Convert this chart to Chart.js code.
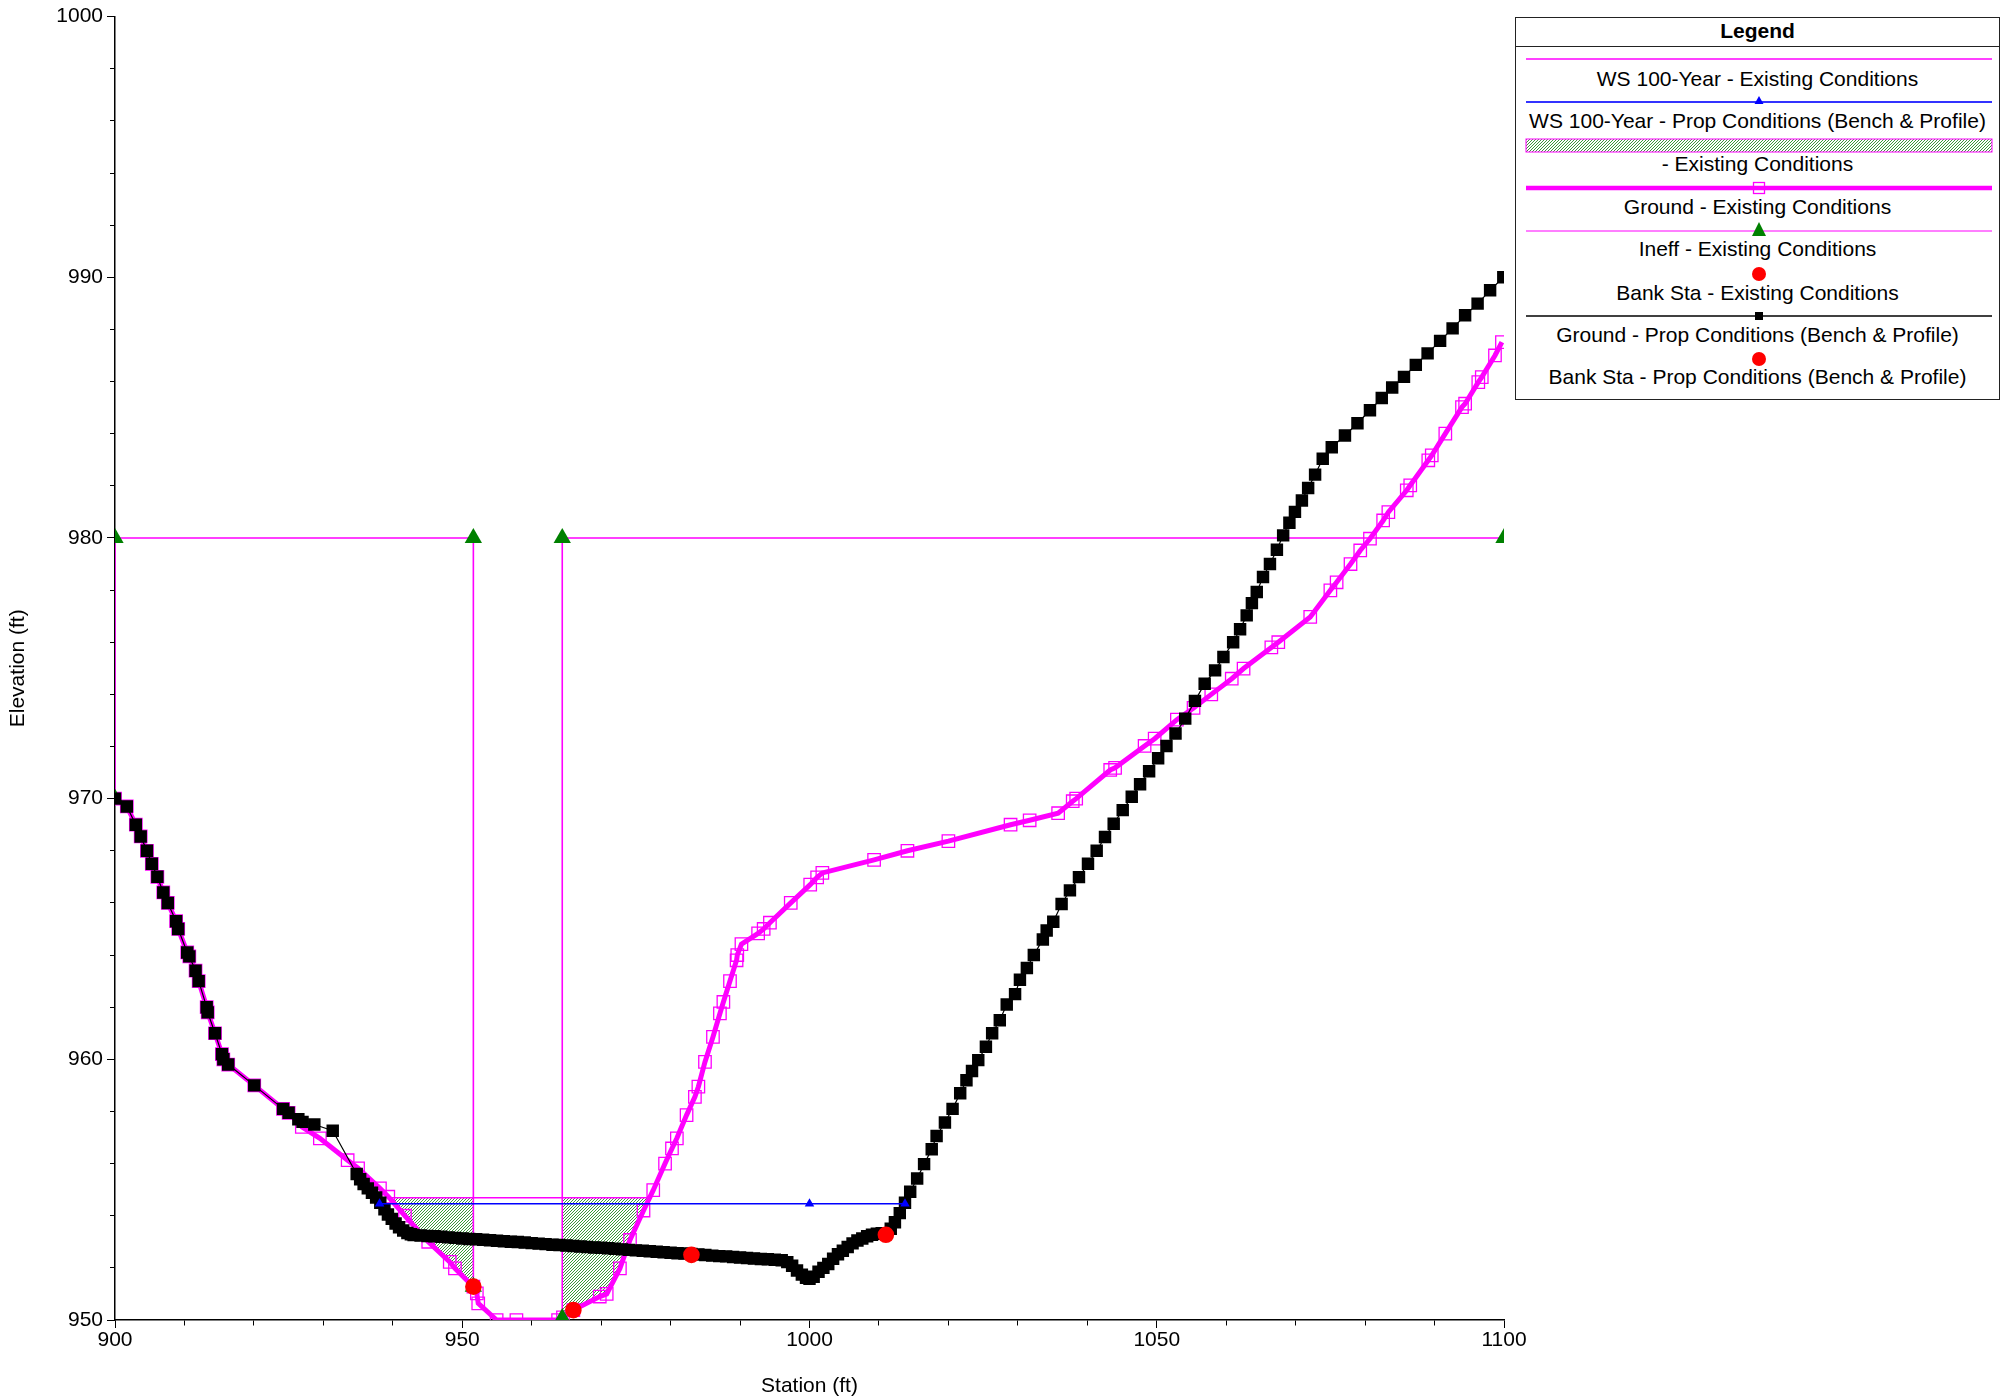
<!DOCTYPE html>
<html>
<head>
<meta charset="utf-8">
<script src="https://cdn.jsdelivr.net/npm/chart.js@4.4.1/dist/chart.umd.min.js"></script>
<style>
html,body{margin:0;padding:0;background:#fff;}
#wrap{position:relative;width:2013px;height:1400px;overflow:hidden;}
#c{position:absolute;left:0;top:0;}
#legend{position:absolute;left:1515px;top:17px;width:485px;height:383px;border:1.5px solid #222;box-sizing:border-box;background:#fff;font-family:"Liberation Sans",Arial,sans-serif;color:#000;}
#legend .ttl{position:absolute;left:0;top:0;width:100%;height:28px;border-bottom:1.5px solid #222;text-align:center;font-weight:bold;font-size:21px;line-height:26px;}
#legend .t{position:absolute;left:0;width:100%;text-align:center;font-size:21px;line-height:24px;white-space:nowrap;}
#legend svg{position:absolute;left:0;top:0;}
</style>
</head>
<body>
<div id="wrap">
<canvas id="c" width="2013" height="1400"></canvas>
<div id="legend">
  <div class="ttl">Legend</div>
  <svg width="485" height="383">
    <defs>
      <pattern id="hatch" width="3" height="3" patternUnits="userSpaceOnUse">
        <rect width="3" height="3" fill="#fff"/>
        <path d="M-1,1 L1,-1 M0,3 L3,0 M2,4 L4,2" stroke="#3a973a" stroke-width="1"/>
      </pattern>
    </defs>
    <line x1="10" y1="41" x2="476" y2="41" stroke="#ff00ff" stroke-width="1.5"/>
    <line x1="10" y1="84" x2="476" y2="84" stroke="#3333ff" stroke-width="2"/>
    <polygon points="243,78 238.5,86 247.5,86" fill="#0000ff"/>
    <rect x="10" y="121" width="466" height="13" fill="url(#hatch)" stroke="#ff00ff" stroke-width="1"/>
    <line x1="10" y1="170" x2="476" y2="170" stroke="#ff00ff" stroke-width="4.5"/>
    <rect x="237.5" y="164.5" width="11" height="11" fill="none" stroke="#ff00ff" stroke-width="1.3"/>
    <line x1="10" y1="213" x2="476" y2="213" stroke="#ff55ff" stroke-width="1.5"/>
    <polygon points="243,204 236,218 250,218" fill="#008000"/>
    <circle cx="243" cy="256" r="7" fill="#ff0000"/>
    <line x1="10" y1="298" x2="476" y2="298" stroke="#000" stroke-width="1.5"/>
    <rect x="239" y="294" width="8" height="8" fill="#000"/>
    <circle cx="243" cy="341" r="7" fill="#ff0000"/>
  </svg>
  <div class="t" style="top:49px">WS 100-Year - Existing Conditions</div>
  <div class="t" style="top:91px">WS 100-Year - Prop Conditions (Bench &amp; Profile)</div>
  <div class="t" style="top:134px">- Existing Conditions</div>
  <div class="t" style="top:177px">Ground - Existing Conditions</div>
  <div class="t" style="top:219px">Ineff - Existing Conditions</div>
  <div class="t" style="top:263px">Bank Sta - Existing Conditions</div>
  <div class="t" style="top:305px">Ground - Prop Conditions (Bench &amp; Profile)</div>
  <div class="t" style="top:347px">Bank Sta - Prop Conditions (Bench &amp; Profile)</div>
</div>
</div>
<script>
// ---------------- DATA ----------------
const groundPropStation = [
  900.0, 901.7, 903.0, 903.7, 904.6, 905.3, 906.1, 906.95, 907.6, 908.8, 909.1, 910.4, 910.7, 911.6, 912.05,
  913.2, 913.35, 914.4, 915.4, 915.6, 916.3, 920.05, 924.2, 925.0, 926.4, 927.0, 928.7, 931.35,
  934.8, 935.3, 935.8, 936.4, 937.0, 937.6, 938.2, 938.8, 939.3, 939.85, 940.4, 940.9, 941.5, 942.1, 942.6,
  943, 944, 945, 946, 947, 948, 949, 950, 951, 952, 953, 954, 955, 956, 957, 958, 959, 960, 961, 962, 963,
  964, 965, 966, 967, 968, 969, 970, 971, 972, 973, 974, 975, 976, 977, 978, 979, 980, 981, 982, 983, 984,
  985, 986, 987, 988, 989, 990, 991, 992, 993, 994, 995, 996,
  996.8, 997.5, 998.2, 998.9, 999.5, 1000.0, 1000.6, 1001.3, 1002.0, 1002.7, 1003.4, 1004.1, 1004.8, 1005.5,
  1006.2, 1006.9, 1007.6, 1008.3, 1009.0, 1009.7, 1010.4, 1011.0,
  1011.7, 1012.3, 1013.0, 1013.75, 1014.5, 1015.5, 1016.5, 1017.6, 1018.3, 1019.5, 1020.6, 1021.7, 1022.6,
  1023.4, 1024.3, 1025.4, 1026.3, 1027.4, 1028.4, 1029.6, 1030.3, 1031.3, 1032.3, 1033.6, 1034.15, 1035.1,
  1036.3, 1037.5, 1038.8, 1040.1, 1041.35, 1042.55, 1043.8, 1045.1, 1046.4, 1047.6, 1048.9, 1050.2, 1051.4,
  1052.7, 1054.1, 1055.5, 1056.9, 1058.4, 1059.6, 1061.0, 1062.0, 1062.95, 1063.7, 1064.4, 1065.3, 1066.3,
  1067.3, 1068.2, 1069.1, 1069.9, 1070.9, 1071.8, 1072.8, 1073.9, 1075.2, 1077.1, 1078.9, 1080.7, 1082.4,
  1083.9, 1085.6, 1087.3, 1089.0, 1090.8, 1092.6, 1094.4, 1096.2, 1098.0, 1099.9
];
const groundPropElev = [
  970.0, 969.7, 969.0, 968.55, 968.0, 967.5, 967.0, 966.4, 966.0, 965.3, 965.0, 964.1, 963.95, 963.4, 963.0,
  962.0, 961.8, 961.0, 960.2, 960.0, 959.8, 959.0, 958.1, 957.95, 957.7, 957.6, 957.5, 957.26,
  955.6, 955.4, 955.22, 955.05, 954.88, 954.7, 954.5, 954.25, 954.05, 953.88, 953.7, 953.56, 953.43, 953.34, 953.29,
  953.26, 953.24, 953.22, 953.21, 953.19, 953.17, 953.15, 953.13, 953.11, 953.10, 953.08, 953.06, 953.04,
  953.02, 953.00, 952.99, 952.97, 952.95, 952.93, 952.91, 952.89, 952.88, 952.86, 952.84, 952.82, 952.80,
  952.78, 952.77, 952.75, 952.73, 952.71, 952.69, 952.67, 952.66, 952.64, 952.62, 952.60, 952.58, 952.56,
  952.55, 952.53, 952.51, 952.49, 952.47, 952.45, 952.44, 952.42, 952.40, 952.38, 952.36, 952.34, 952.33,
  952.31, 952.29,
  952.22, 952.08, 951.9, 951.74, 951.62, 951.58, 951.66, 951.85, 952.0, 952.15, 952.35, 952.52, 952.66, 952.8,
  952.94, 953.05, 953.13, 953.21, 953.27, 953.31, 953.33, 953.33,
  953.5, 953.75, 954.1, 954.5, 954.92, 955.43, 955.98, 956.55, 957.06, 957.58, 958.1, 958.7, 959.2,
  959.55, 959.97, 960.48, 961.0, 961.5, 962.1, 962.5, 963.05, 963.5, 964.0, 964.6, 964.94, 965.28,
  965.96, 966.48, 966.99, 967.5, 968.0, 968.53, 969.04, 969.56, 970.07, 970.55, 971.05, 971.55, 972.02,
  972.5, 973.07, 973.75, 974.41, 974.92, 975.43, 976.0, 976.5, 977.03, 977.5, 977.93, 978.5, 979.0,
  979.55, 980.1, 980.58, 981.0, 981.44, 981.92, 982.43, 983.04, 983.48, 983.93, 984.4, 984.9, 985.37,
  985.77, 986.18, 986.64, 987.08, 987.56, 988.04, 988.54, 988.99, 989.5, 990.0
];

const groundExistStation = [
  900.0, 901.7, 903.0, 903.7, 904.6, 905.3, 906.1, 906.95, 907.6, 908.8, 909.1, 910.4, 910.7, 911.6, 912.05,
  913.2, 913.35, 914.4, 915.4, 915.6, 916.3, 920.05, 924.2, 925.0, 926.9, 929.5, 933.5, 935.0, 938.15, 939.35,
  941.75, 945.1, 948.2, 948.95, 951.6, 952.1, 952.3, 954.95, 957.8, 963.8, 964.5, 966.0, 969.8, 970.8, 972.7,
  974.15, 976.1, 977.5, 979.2, 980.2, 980.9, 982.3, 983.5, 984.0, 984.95, 986.1, 987.1, 987.6, 988.55, 989.5,
  989.6, 990.2, 992.6, 993.4, 994.3, 997.3, 1000.1, 1001.1, 1001.85, 1009.3, 1014.1, 1020.0, 1028.95, 1031.7,
  1035.8, 1037.9, 1038.4, 1043.3, 1044.0, 1048.25, 1049.7, 1052.9, 1055.3, 1057.85, 1060.8, 1062.5, 1066.5,
  1067.5, 1072.1, 1075.0, 1075.9, 1077.9, 1079.3, 1080.7, 1082.6, 1083.35, 1086.0, 1086.5, 1089.1, 1089.6,
  1091.55, 1093.95, 1094.4, 1096.3, 1096.8, 1098.7, 1099.7
];
const groundExistElev = [
  970.0, 969.7, 969.0, 968.55, 968.0, 967.5, 967.0, 966.4, 966.0, 965.3, 965.0, 964.1, 963.95, 963.4, 963.0,
  962.0, 961.8, 961.0, 960.2, 960.0, 959.8, 959.0, 958.1, 957.95, 957.41, 956.97, 956.13, 955.82, 955.05, 954.73,
  954.0, 953.0, 952.23, 951.98, 951.28, 951.02, 950.64, 950.0, 950.0, 950.0, 950.1, 950.38, 950.9, 951.0, 951.98,
  953.07, 954.2, 954.98, 956.0, 956.58, 956.97, 957.86, 958.56, 958.95, 959.9, 960.86, 961.76, 962.2, 963.0, 963.8,
  964.0, 964.42, 964.83, 965.0, 965.24, 966.0, 966.7, 966.98, 967.15, 967.65, 968.0, 968.37, 969.0, 969.17,
  969.44, 969.9, 970.0, 971.1, 971.18, 972.02, 972.3, 973.03, 973.48, 974.0, 974.6, 974.99, 975.8,
  976.0, 976.97, 977.99, 978.3, 979.0, 979.52, 979.97, 980.67, 980.99, 981.83, 982.02, 982.98, 983.17,
  984.0, 985.02, 985.15, 985.98, 986.17, 987.0, 987.51
];

const wsExistStation = [939.5, 976.95];
const wsExistElev = [954.69, 954.69];
const wsPropStation = [938.1, 1000.0, 1013.75];
const wsPropElev = [954.46, 954.46, 954.46];

const ineffLeftStation = [900.0, 900.0, 951.6, 951.6];
const ineffLeftElev = [970.0, 980.0, 980.0, 951.28];
const ineffRightStation = [964.4, 964.4, 1100.0];
const ineffRightElev = [950.08, 980.0, 980.0];

const bankExistStation = [951.6, 966.0];
const bankExistElev = [951.28, 950.38];
const bankPropStation = [983.0, 1011.0];
const bankPropElev = [952.5, 953.27];

const ineffFillLeftStation = [939.5, 951.6, 951.6, 948.95, 948.2, 945.1, 941.75, 939.5];
const ineffFillLeftElev = [954.69, 954.69, 951.28, 951.98, 952.23, 953.0, 954.0, 954.69];
const ineffFillRightStation = [964.4, 976.95, 976.1, 974.15, 972.7, 970.8, 969.8, 966.0, 964.5, 964.4, 964.4];
const ineffFillRightElev = [954.69, 954.69, 954.2, 953.07, 951.98, 951.0, 950.9, 950.38, 950.1, 950.08, 954.69];

const xMin = 900, xMax = 1100, xMajor = 50, xMinor = 10;
const yMin = 950, yMax = 1000, yMajor = 10, yMinor = 2;

// ---------------- CHART ----------------
const pts = (xs, ys) => xs.map((x, i) => ({x: x, y: ys[i]}));
const FONT = '"Liberation Sans", Arial, sans-serif';
Chart.defaults.font.family = FONT;
Chart.defaults.color = '#000';

function hatchPattern() {
  const c = document.createElement('canvas');
  c.width = 3; c.height = 3;
  const g = c.getContext('2d');
  g.fillStyle = '#ffffff'; g.fillRect(0, 0, 3, 3);
  g.fillStyle = '#3a973a';
  for (let i = 0; i < 3; i++) g.fillRect(i, 2 - i, 1, 1);
  return g.createPattern(c, 'repeat');
}
const hatch = hatchPattern();
const MAG = '#ff00ff';

const datasets = [
  {label: 'fillL', data: pts(ineffFillLeftStation, ineffFillLeftElev), showLine: true, fill: 'shape',
   backgroundColor: hatch, borderWidth: 0, borderColor: 'rgba(0,0,0,0)', pointRadius: 0, order: 20},
  {label: 'fillR', data: pts(ineffFillRightStation, ineffFillRightElev), showLine: true, fill: 'shape',
   backgroundColor: hatch, borderWidth: 0, borderColor: 'rgba(0,0,0,0)', pointRadius: 0, order: 19},
  {label: 'Ground - Existing Conditions', data: pts(groundExistStation, groundExistElev), showLine: true,
   borderColor: MAG, borderWidth: 5, pointStyle: 'rect', pointRadius: 8.8, pointBackgroundColor: 'rgba(0,0,0,0)',
   pointBorderColor: MAG, pointBorderWidth: 1.3, order: 10},
  {label: 'WS 100-Year - Existing Conditions', data: pts(wsExistStation, wsExistElev), showLine: true,
   borderColor: MAG, borderWidth: 1.6, pointRadius: 0, order: 9},
  {label: 'Ineff L', data: pts(ineffLeftStation, ineffLeftElev), showLine: true,
   borderColor: MAG, borderWidth: 1.6, pointStyle: 'triangle', pointRadius: 10, pointBackgroundColor: '#008000',
   pointBorderWidth: 0, order: 8},
  {label: 'Ineff R', data: pts(ineffRightStation, ineffRightElev), showLine: true,
   borderColor: MAG, borderWidth: 1.6, pointStyle: 'triangle', pointRadius: 10, pointBackgroundColor: '#008000',
   pointBorderWidth: 0, order: 7},
  {label: 'Ground - Prop Conditions (Bench & Profile)', data: pts(groundPropStation, groundPropElev), showLine: true,
   borderColor: '#000', borderWidth: 1.2, pointStyle: 'rect', pointRadius: 8.8, pointBackgroundColor: '#000',
   pointBorderWidth: 0, order: 6},
  {label: 'WS 100-Year - Prop Conditions (Bench & Profile)', data: pts(wsPropStation, wsPropElev), showLine: true,
   borderColor: '#0000ff', borderWidth: 1.6, pointStyle: 'triangle', pointRadius: 5.5, pointBackgroundColor: '#0000ff',
   pointBorderWidth: 0, order: 5},
  {label: 'Bank Sta - Existing Conditions', data: pts(bankExistStation, bankExistElev), showLine: false,
   pointStyle: 'circle', pointRadius: 8.3, pointBackgroundColor: '#ff0000', pointBorderWidth: 0, order: 2},
  {label: 'Bank Sta - Prop Conditions (Bench & Profile)', data: pts(bankPropStation, bankPropElev), showLine: false,
   pointStyle: 'circle', pointRadius: 8.3, pointBackgroundColor: '#ff0000', pointBorderWidth: 0, order: 1}
];
datasets.forEach(d => { d.tension = 0; d.pointHoverRadius = d.pointRadius; });

new Chart(document.getElementById('c'), {
  type: 'scatter',
  data: {datasets: datasets},
  options: {
    responsive: false,
    animation: false,
    devicePixelRatio: 1,
    events: [],
    layout: {padding: {left: 0, right: 509, top: 16, bottom: 0}},
    plugins: {legend: {display: false}, tooltip: {enabled: false}},
    scales: {
      x: {
        type: 'linear', position: 'bottom', min: xMin, max: xMax,
        afterFit: s => { s.height = 80; },
        border: {display: true, color: '#000', width: 1.5},
        grid: {
          display: true, drawOnChartArea: false, drawTicks: true, tickLength: 8, tickColor: '#000', tickWidth: 1,
          tickBorderDash: ctx => (ctx.tick && Math.round(ctx.tick.value) % xMajor === 0) ? [] : [5, 30]
        },
        ticks: {
          stepSize: xMinor, autoSkip: false, maxRotation: 0, minRotation: 0, padding: 0, color: '#000',
          font: {size: 21},
          callback: v => (Math.round(v) % xMajor === 0 ? String(Math.round(v)) : '')
        },
        title: {display: true, text: 'Station (ft)', color: '#000', font: {size: 21}, padding: {top: 0, bottom: 1}}
      },
      y: {
        type: 'linear', position: 'left', min: yMin, max: yMax,
        afterFit: s => { s.width = 115; },
        border: {display: true, color: '#000', width: 1.5},
        grid: {
          display: true, drawOnChartArea: false, drawTicks: true, tickLength: 8, tickColor: '#000', tickWidth: 1,
          tickBorderDash: ctx => (ctx.tick && Math.round(ctx.tick.value) % yMajor === 0) ? [] : [0, 3, 5, 30]
        },
        ticks: {
          stepSize: yMinor, autoSkip: false, padding: 4, color: '#000',
          font: {size: 21},
          callback: v => (Math.round(v) % yMajor === 0 ? String(Math.round(v)) : '')
        },
        title: {display: true, text: 'Elevation (ft)', color: '#000', font: {size: 21}, padding: {top: 6, bottom: 0}}
      }
    }
  }
});
</script>
</body>
</html>
